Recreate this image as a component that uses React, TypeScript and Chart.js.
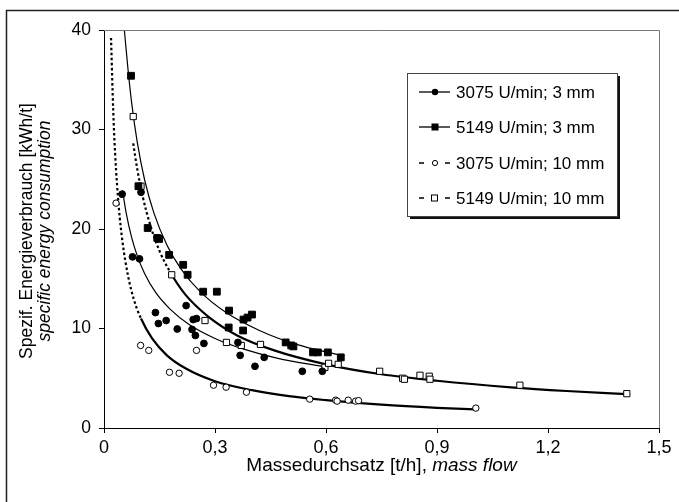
import React, { useEffect, useRef } from "react";
import { Chart, registerables } from "chart.js";

Chart.register(...registerables);

// ---- data ----
const X_TICKS = [0, 0.3, 0.6, 0.9, 1.2, 1.5];
const Y_TICKS = [0, 10, 20, 30, 40];

const LEGEND_LABELS = [
  "3075 U/min; 3 mm",
  "5149 U/min; 3 mm",
  "3075 U/min; 10 mm",
  "5149 U/min; 10 mm",
];

// 3075 U/min; 3 mm (filled circles)
const S1_X = [0.049, 0.077, 0.096, 0.1, 0.139, 0.147, 0.168, 0.198, 0.222, 0.238, 0.241, 0.247, 0.25, 0.27, 0.362, 0.368, 0.408, 0.433, 0.536, 0.59];
const S1_Y = [23.5, 17.2, 17.0, 23.7, 11.6, 10.5, 10.8, 9.95, 12.3, 9.9, 10.9, 9.3, 11.0, 8.5, 8.6, 7.3, 6.2, 7.1, 5.7, 5.7];

// 5149 U/min; 3 mm (filled squares)
const S2_X = [0.073, 0.093, 0.118, 0.144, 0.149, 0.176, 0.214, 0.226, 0.268, 0.305, 0.338, 0.337, 0.376, 0.377, 0.388, 0.4, 0.491, 0.506, 0.512, 0.565, 0.578, 0.605, 0.64];
const S2_Y = [35.4, 24.3, 20.1, 19.1, 19.0, 17.4, 16.4, 15.4, 13.7, 13.7, 11.8, 10.1, 9.8, 10.9, 11.1, 11.4, 8.6, 8.3, 8.2, 7.6, 7.6, 7.6, 7.1];

// 3075 U/min; 10 mm (open circles)
const S3_X = [0.0325, 0.099, 0.121, 0.177, 0.203, 0.25, 0.296, 0.33, 0.385, 0.556, 0.626, 0.63, 0.66, 0.68, 0.688, 1.005];
const S3_Y = [22.6, 8.3, 7.8, 5.6, 5.5, 7.8, 4.3, 4.1, 3.6, 2.9, 2.8, 2.7, 2.8, 2.7, 2.75, 2.0];

// 5149 U/min; 10 mm (open squares)
const S4_X = [0.079, 0.1, 0.183, 0.273, 0.331, 0.371, 0.423, 0.597, 0.607, 0.633, 0.745, 0.807, 0.812, 0.854, 0.879, 0.881, 1.124, 1.413];
const S4_Y = [31.3, 24.3, 15.4, 10.8, 8.6, 8.3, 8.4, 6.1, 6.5, 6.4, 5.7, 5.0, 4.9, 5.3, 5.2, 4.9, 4.3, 3.45];

// trend curves
const FIT1_X = [0.05, 0.06, 0.075, 0.09, 0.11, 0.14, 0.18, 0.23, 0.3, 0.38, 0.47, 0.59];
const FIT1_Y = [23.9, 21.6, 19.1, 17.3, 15.5, 13.6, 11.9, 10.4, 9.0, 7.9, 7.0, 6.2];

const FIT2_X = [0.055, 0.065, 0.075, 0.09, 0.11, 0.135, 0.17, 0.21, 0.26, 0.33, 0.42, 0.52, 0.64];
const FIT2_Y = [40.0, 36.0, 32.6, 28.7, 24.9, 21.6, 18.4, 15.9, 13.7, 11.6, 9.8, 8.4, 7.3];

const FIT3_X = [0.019, 0.025, 0.03, 0.04, 0.05, 0.065, 0.08, 0.1, 0.13, 0.17, 0.22, 0.3, 0.4, 0.5, 0.6, 0.75, 0.9, 1.003];
const FIT3_Y = [39.2, 31.8, 27.6, 22.2, 18.7, 15.3, 13.0, 11.0, 9.0, 7.3, 6.0, 4.7, 3.8, 3.2, 2.8, 2.34, 2.03, 1.88];

const FIT4_X = [0.079, 0.09, 0.105, 0.125, 0.15, 0.18, 0.22, 0.28, 0.36, 0.46, 0.6, 0.75, 0.9, 1.1, 1.25, 1.413];
const FIT4_Y = [28.6, 26.0, 23.2, 20.4, 17.8, 15.6, 13.4, 11.25, 9.3, 7.8, 6.4, 5.4, 4.75, 4.09, 3.72, 3.4];

const FONT = '"Liberation Sans", Arial, sans-serif';

const pts = (xs: number[], ys: number[]) => xs.map((x, i) => ({ x, y: ys[i] }));

const steepDash = (ctx: any) => {
  const dx = Math.abs(ctx.p1.x - ctx.p0.x);
  const dy = Math.abs(ctx.p1.y - ctx.p0.y);
  return dy > 1.8 * dx ? [2.5, 2.5] : undefined;
};

const decor = {
  id: "decor",
  afterDraw(chart: any) {
    const c = chart.ctx as CanvasRenderingContext2D;
    const a = chart.chartArea;
    c.save();
    // outer frame
    c.strokeStyle = "#222";
    c.lineWidth = 1.5;
    c.beginPath();
    c.moveTo(6.5, 502);
    c.lineTo(6.5, 10.5);
    c.lineTo(679, 10.5);
    c.stroke();
    // plot box top/right
    c.strokeStyle = "#777";
    c.lineWidth = 1;
    c.beginPath();
    c.moveTo(a.left, a.top + 0.5);
    c.lineTo(a.right + 0.5, a.top + 0.5);
    c.lineTo(a.right + 0.5, a.bottom);
    c.stroke();

    // legend
    const L = 407, T = 73, R = 617, B = 216;
    c.fillStyle = "#fff";
    c.fillRect(L, T, R - L, B - T);
    c.fillStyle = "#111";
    c.fillRect(R, T + 3, 3, B - T);
    c.fillRect(L + 3, B, R - L, 3);
    c.strokeStyle = "#444";
    c.lineWidth = 1;
    c.strokeRect(L + 0.5, T + 0.5, R - L, B - T);
    const rows = [92, 127, 163, 198];
    c.font = `17px ${FONT}`;
    c.textBaseline = "middle";
    c.textAlign = "left";
    rows.forEach((ry, i) => {
      c.strokeStyle = "#000";
      c.fillStyle = "#000";
      c.lineWidth = 1.3;
      c.beginPath();
      if (i < 2) {
        c.moveTo(419, ry);
        c.lineTo(450, ry);
      } else {
        c.moveTo(419, ry);
        c.lineTo(424, ry);
        c.moveTo(445, ry);
        c.lineTo(450, ry);
      }
      c.stroke();
      c.lineWidth = 1;
      if (i === 0) {
        c.beginPath();
        c.arc(435, ry, 3.2, 0, Math.PI * 2);
        c.fill();
      } else if (i === 1) {
        c.fillRect(431.5, ry - 3.5, 7, 7);
      } else if (i === 2) {
        c.fillStyle = "#fff";
        c.beginPath();
        c.arc(435, ry, 2.6, 0, Math.PI * 2);
        c.fill();
        c.stroke();
      } else {
        c.fillStyle = "#fff";
        c.fillRect(431.5, ry - 3, 6, 6);
        c.strokeRect(431.5, ry - 3, 6, 6);
      }
      c.fillStyle = "#000";
      c.fillText(LEGEND_LABELS[i], 456, ry + 1);
    });

    // axis titles
    c.fillStyle = "#000";
    c.textBaseline = "middle";
    const cx = (a.left + a.right) / 2;
    const p1 = "Massedurchsatz [t/h], ";
    const p2 = "mass flow";
    c.font = `19px ${FONT}`;
    const w1 = c.measureText(p1).width;
    c.font = `italic 19px ${FONT}`;
    const w2 = c.measureText(p2).width;
    const sx = cx - (w1 + w2) / 2;
    c.textAlign = "left";
    c.font = `19px ${FONT}`;
    c.fillText(p1, sx, 466);
    c.font = `italic 19px ${FONT}`;
    c.fillText(p2, sx + w1, 466);

    const cy = (a.top + a.bottom) / 2 + 2;
    c.translate(0, cy);
    c.rotate(-Math.PI / 2);
    c.textAlign = "center";
    c.font = `17.5px ${FONT}`;
    c.fillText("Spezif. Energieverbrauch [kWh/t]", 0, 27);
    c.font = `italic 17.5px ${FONT}`;
    c.fillText("specific energy consumption", 0, 45);
    c.restore();
  },
};

export default function App() {
  const ref = useRef<HTMLCanvasElement | null>(null);
  useEffect(() => {
    document.body.style.margin = "0";
    const canvas = ref.current!;
    const pointBase = {
      showLine: false,
      borderColor: "#000",
      borderWidth: 1,
      order: 0,
    };
    const lineBase = {
      showLine: true,
      pointRadius: 0,
      borderColor: "#000",
      backgroundColor: "#000",
      cubicInterpolationMode: "monotone" as const,
      order: 1,
    };
    const chart = new Chart(canvas, {
      type: "scatter",
      data: {
        datasets: [
          { ...pointBase, label: LEGEND_LABELS[0], data: pts(S1_X, S1_Y), pointStyle: "circle", pointRadius: 3.4, backgroundColor: "#000" },
          { ...pointBase, label: LEGEND_LABELS[1], data: pts(S2_X, S2_Y), pointStyle: "rect", pointRadius: 4.8, backgroundColor: "#000" },
          { ...pointBase, label: LEGEND_LABELS[2], data: pts(S3_X, S3_Y), pointStyle: "circle", pointRadius: 3.2, backgroundColor: "#fff" },
          { ...pointBase, label: LEGEND_LABELS[3], data: pts(S4_X, S4_Y), pointStyle: "rect", pointRadius: 4.4, backgroundColor: "#fff" },
          { ...lineBase, label: "fit1", data: pts(FIT1_X, FIT1_Y), borderWidth: 1.2 },
          { ...lineBase, label: "fit2", data: pts(FIT2_X, FIT2_Y), borderWidth: 1.2 },
          { ...lineBase, label: "fit3", data: pts(FIT3_X, FIT3_Y), borderWidth: 2.2, segment: { borderDash: steepDash } },
          { ...lineBase, label: "fit4", data: pts(FIT4_X, FIT4_Y), borderWidth: 2.2, segment: { borderDash: steepDash } },
        ] as any,
      },
      options: {
        responsive: false,
        animation: false,
        layout: { padding: { left: 0, right: 20, top: 30, bottom: 0 } },
        plugins: {
          legend: { display: false },
          tooltip: { enabled: false },
          title: { display: false },
        },
        scales: {
          x: {
            type: "linear",
            min: 0,
            max: 1.5,
            afterBuildTicks: (s: any) => {
              s.ticks = X_TICKS.map((v) => ({ value: v }));
            },
            afterFit: (s: any) => {
              s.height = 74;
            },
            grid: { drawOnChartArea: false, drawTicks: true, tickLength: 5, color: "#000" },
            border: { display: true, color: "#000", width: 1 },
            ticks: {
              color: "#000",
              padding: 4,
              font: { family: FONT, size: 18 },
              maxRotation: 0,
              callback: (v: any) => (Number(v) === 0 ? "0" : Number(v).toFixed(1).replace(".", ",")),
            },
          },
          y: {
            type: "linear",
            min: 0,
            max: 40,
            afterBuildTicks: (s: any) => {
              s.ticks = Y_TICKS.map((v) => ({ value: v }));
            },
            afterFit: (s: any) => {
              s.width = 104;
            },
            grid: { drawOnChartArea: false, drawTicks: true, tickLength: 5, color: "#000" },
            border: { display: true, color: "#000", width: 1 },
            ticks: {
              color: "#000",
              padding: 8,
              font: { family: FONT, size: 17.5 },
              callback: (v: any) => String(v),
            },
          },
        },
      },
      plugins: [decor],
    });
    return () => chart.destroy();
  }, []);
  return <canvas ref={ref} width={679} height={502} style={{ display: "block" }} />;
}
